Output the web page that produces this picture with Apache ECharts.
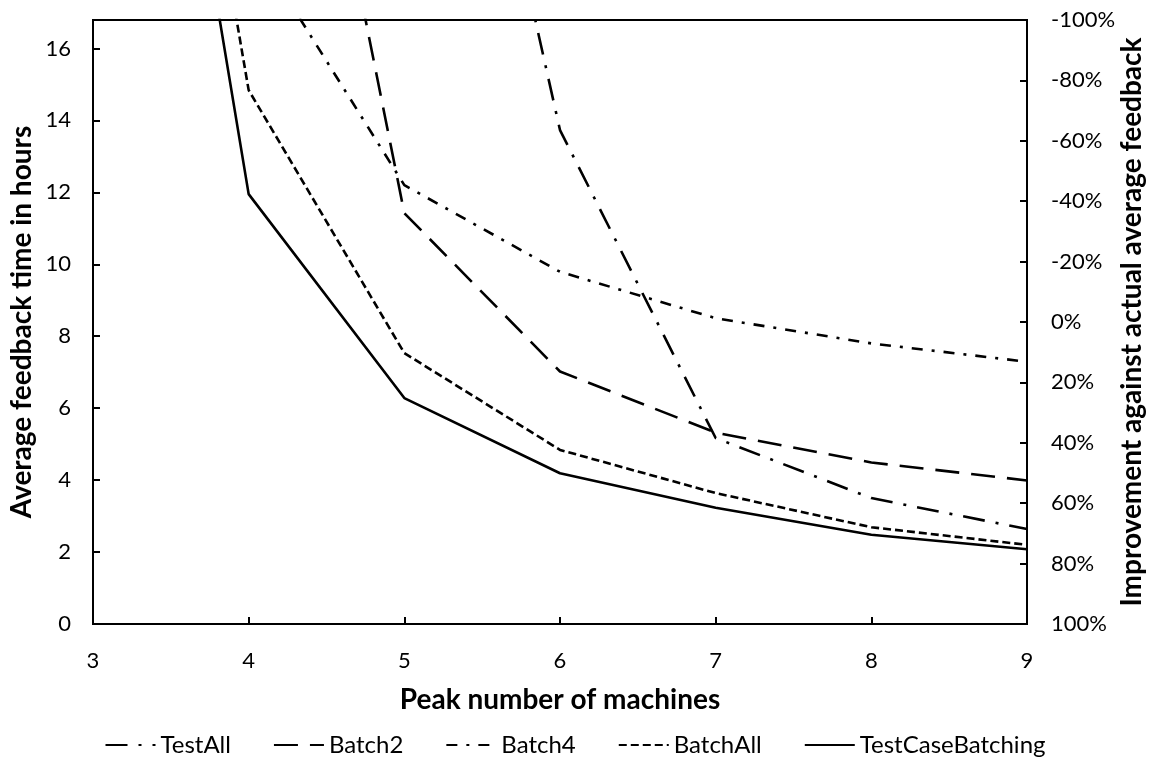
<!DOCTYPE html>
<html>
<head>
<meta charset="utf-8">
<script src="https://cdn.jsdelivr.net/npm/echarts@6/dist/echarts.min.js"></script>
<style>
  html, body { margin: 0; padding: 0; background: #fff; }
  #chart { width: 1150px; height: 761px; }
</style>
</head>
<body>
<div id="chart"></div>
<script>
// Peak number of machines (x values)
const machines = [3, 4, 5, 6, 7, 8, 9];

// Average feedback time in hours per strategy (first points run above the plot top)
const testAll          = [null, null, 33.0, 13.73, 5.17, 3.50, 2.64];
const batch2           = [null, 33.0, 11.42, 7.02, 5.32, 4.49, 3.99];
const batch4           = [null, 19.1, 12.2, 9.79, 8.50, 7.80, 7.29];
const batchAll         = [40.0, 14.84, 7.53, 4.84, 3.64, 2.69, 2.20];
const testCaseBatching = [38.0, 11.95, 6.28, 4.19, 3.23, 2.48, 2.08];

const seriesNames = ['TestAll', 'Batch2', 'Batch4', 'BatchAll', 'TestCaseBatching'];

// Actual average feedback time (hours): the 0% line of the right axis
const actualAverage = 8.395;
const leftMax = actualAverage * 2;

const FONT = 'Lato';
const INK = '#000';

function pairs(values) {
  const out = [];
  values.forEach((v, i) => { if (v !== null) out.push([machines[i], v]); });
  return out;
}

const dashStyles = {
  TestAll: [22, 11, 3, 11],
  Batch2: [24, 12],
  Batch4: [11, 9, 3, 9],
  BatchAll: [8, 4],
  TestCaseBatching: 'solid'
};

const seriesData = {
  TestAll: testAll,
  Batch2: batch2,
  Batch4: batch4,
  BatchAll: batchAll,
  TestCaseBatching: testCaseBatching
};

const chart = echarts.init(document.getElementById('chart'), null, { renderer: 'canvas' });

const axisTitle = { fontFamily: FONT, fontSize: 28, fontWeight: 'bold', color: INK };
const axisLine = { show: true, lineStyle: { color: INK, width: 2 } };
const axisTick = { show: true, inside: true, length: 7, lineStyle: { color: INK, width: 2 } };

chart.setOption({
  backgroundColor: '#fff',
  animation: false,
  grid: {
    left: 93, right: 123, top: 20, bottom: 137,
    outerBoundsMode: 'none',
    containLabel: false,
    show: true, borderColor: INK, borderWidth: 2, backgroundColor: 'transparent'
  },
  legend: {
    top: 728,
    left: 'center',
    itemWidth: 50,
    itemHeight: 12,
    itemGap: 42,
    itemStyle: { opacity: 0 },
    textStyle: { fontFamily: FONT, fontSize: 24, color: INK },
    data: seriesNames
  },
  xAxis: {
    type: 'value',
    min: 3, max: 9, interval: 1,
    name: 'Peak number of machines',
    nameLocation: 'middle',
    nameMoveOverlap: false,
    nameGap: 62,
    nameTextStyle: axisTitle,
    axisLine, axisTick,
    axisLabel: { fontFamily: FONT, fontSize: 22, color: INK, margin: 26 },
    splitLine: { show: false }
  },
  yAxis: [
    {
      type: 'value',
      min: 0, max: leftMax, interval: 2,
      name: 'Average feedback time in hours',
      nameLocation: 'middle',
      nameMoveOverlap: false,
      nameRotate: 90,
      nameGap: 57,
      nameTextStyle: axisTitle,
      axisLine, axisTick,
      axisLabel: {
        fontFamily: FONT, fontSize: 22, color: INK, margin: 22,
        showMaxLabel: false,
        formatter: v => (Math.abs(v - Math.round(v)) < 1e-6 ? String(Math.round(v)) : '')
      },
      splitLine: { show: false }
    },
    {
      type: 'value',
      position: 'right',
      inverse: true,
      min: -100, max: 100, interval: 20,
      name: 'Improvement against actual average feedback',
      nameLocation: 'middle',
      nameMoveOverlap: false,
      nameRotate: 90,
      nameGap: 91,
      nameTextStyle: axisTitle,
      axisLine, axisTick,
      axisLabel: { fontFamily: FONT, fontSize: 22, color: INK, margin: 24, formatter: '{value}%' },
      splitLine: { show: false }
    }
  ],
  series: seriesNames.map(name => ({
    name,
    type: 'line',
    yAxisIndex: 0,
    data: pairs(seriesData[name]),
    symbol: 'none',
    clip: true,
    color: INK,
    lineStyle: { color: INK, width: 2.6, type: dashStyles[name], cap: 'butt' },
    emphasis: { disabled: true }
  }))
});
</script>
</body>
</html>
